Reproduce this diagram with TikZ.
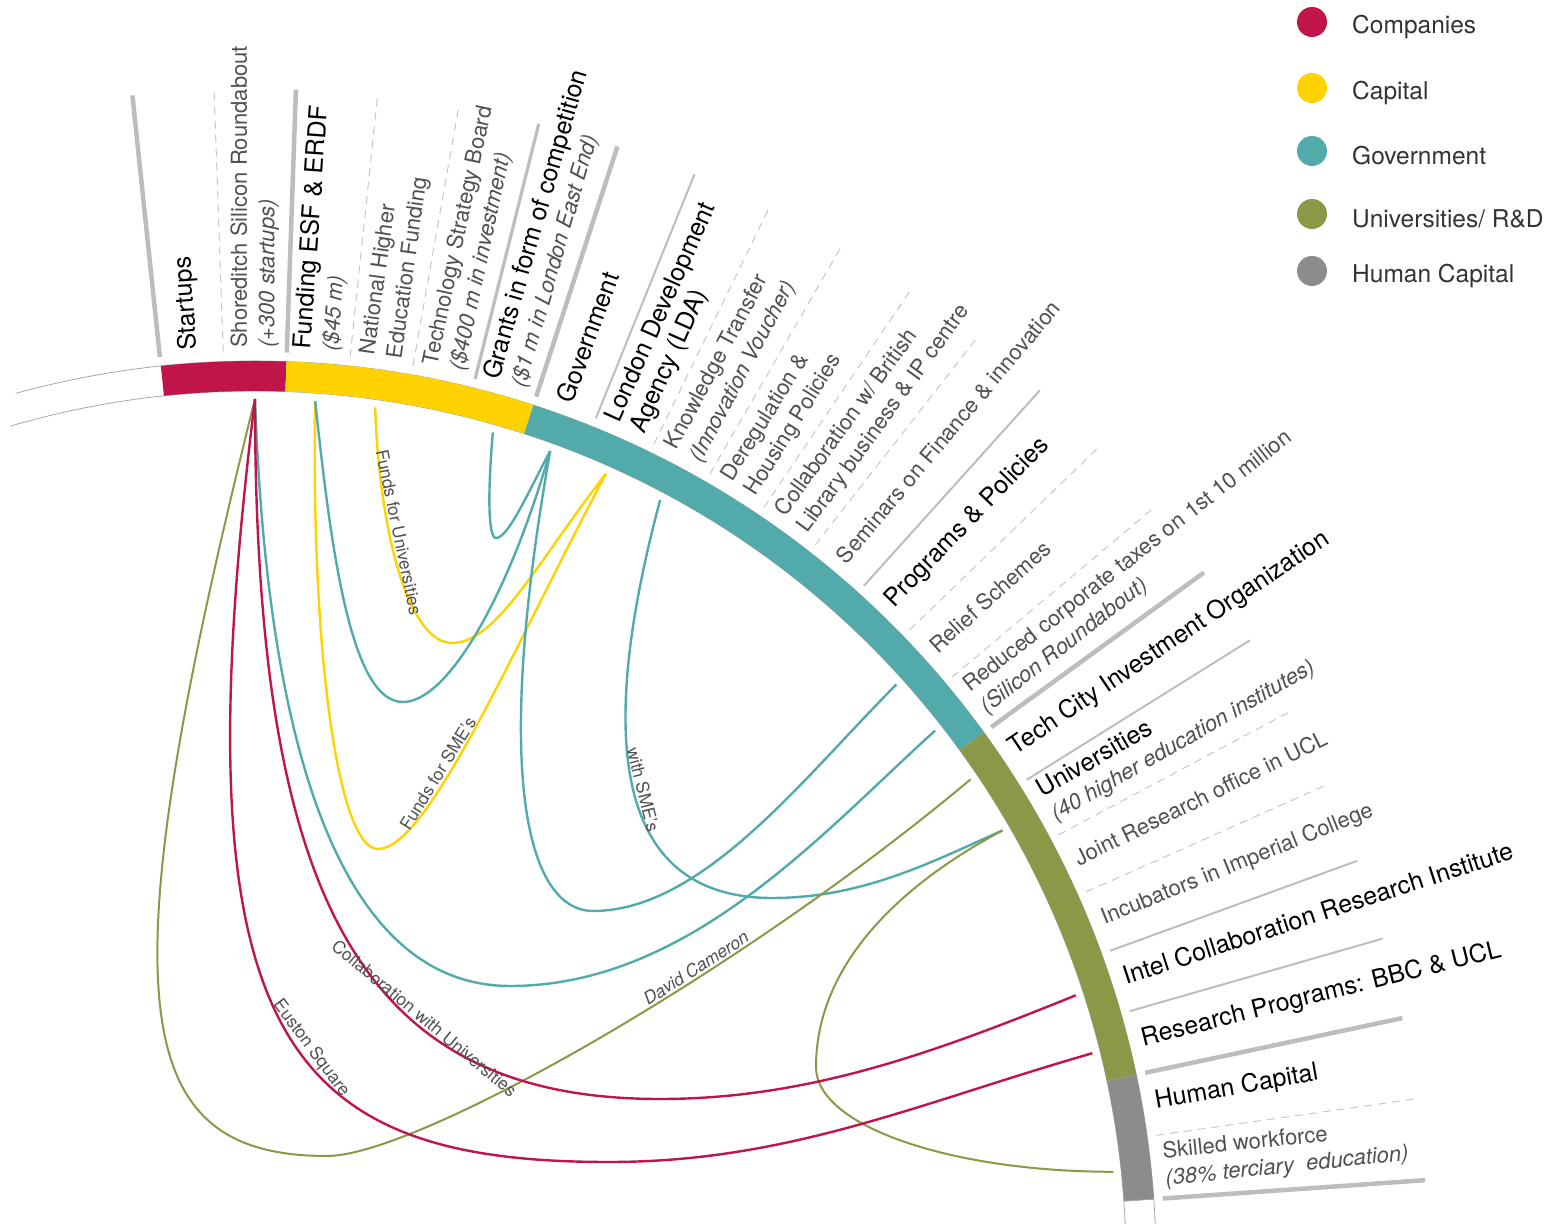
\documentclass[tikz,border=0pt]{standalone}
\usepackage{fontspec}
\setmainfont{TeX Gyre Heros}
\usetikzlibrary{calc}

\definecolor{cRed}{HTML}{C0144B}
\definecolor{cYel}{HTML}{FFD200}
\definecolor{cTeal}{HTML}{52ABAA}
\definecolor{cOlive}{HTML}{8B9848}
\definecolor{cGray}{HTML}{8C8C8C}
\definecolor{sepGray}{HTML}{BDBDBD}
\definecolor{txtGray}{HTML}{505050}
\definecolor{legGray}{HTML}{333333}

% fonts for the radial labels
\newcommand{\lblA}{\fontsize{25}{28}\selectfont\color{black}}
\newcommand{\lblB}{\fontsize{22}{28}\selectfont\color{txtGray}}

% one ring segment between two angles
\newcommand{\bandseg}[3]{\fill[#3] (#1:871pt) arc[start angle=#1, end angle=#2, radius=871pt] -- (#2:901pt) arc[start angle=#2, end angle=#1, radius=901pt] -- cycle;}

% radial labels, one or two lines
\newcommand{\radlab}[2]{\node[radnode, rotate=#1] (lab#1) at (#1:914pt) {\begin{tabular}{@{}l@{}}#2\end{tabular}};}
\newcommand{\radlabII}[3]{\node[radnode, rotate=#1] (lab#1) at (#1:914pt) {\begin{tabular}{@{}l@{}}#2\\#3\end{tabular}};}

\tikzset{
  septhick/.style={draw=sepGray, line width=4.5pt},
  sepmid/.style={draw=sepGray, line width=3.2pt},
  septhin/.style={draw=sepGray, line width=2pt},
  sepdash/.style={draw=sepGray!85, line width=1pt, dash pattern=on 8pt off 6pt},
  radnode/.style={anchor=west, inner sep=0pt, font=\fontsize{22}{27.5}\selectfont},
  chord/.style={line width=2.4pt},
  chordlab/.style={font=\fontsize{17.5}{20}\selectfont, text=txtGray, sloped, above, inner sep=2pt},
  legtext/.style={font=\fontsize{24.5}{28}\selectfont, text=legGray, anchor=west, inner sep=0pt},
  ringline/.style={draw=black!35, line width=0.8pt},
}

\begin{document}
\begin{tikzpicture}[x=1pt, y=1pt]
\useasboundingbox (-255,39) rectangle (1291,1262);

% ---------- chord end points on the inner side of the ring ----------
\foreach \a in {90,86,82,74,70,66,62,42,38,34,30,18,14,6}
  \coordinate (e\a) at (\a:863pt);

% lowest / turning points of the chords
\coordinate (by1) at (197,619);
\coordinate (by2) at (123,413);
\coordinate (bt1) at (241,724);
\coordinate (bt2) at (148,560);
\coordinate (bt3) at (338,351);
\coordinate (bt4) at (517,364);
\coordinate (bt5) at (255,276);
\coordinate (bo1) at (72,106);
\coordinate (bo2) at (561,195);
\coordinate (br1) at (405,163);
\coordinate (br2) at (354,100);

% ---------- chords ----------
% capital
\draw[chord, cYel] (e82) to[out=-88, in=180, out distance=130pt, in distance=42pt]
   node[chordlab, pos=.36] {Funds for Universities} (by1)
   to[out=0, in=232, out distance=45pt, in distance=110pt] (e66);
\draw[chord, cYel] (e86) to[out=-91, in=180, out distance=250pt, in distance=40pt] (by2)
   to[out=0, in=242, out distance=50pt, in distance=200pt]
   node[chordlab, pos=.37] {Funds for SME's} (e66);
% government
\draw[chord, cTeal] (e86) to[out=-84, in=180, out distance=165pt, in distance=50pt] (bt2)
   to[out=0, in=254, out distance=45pt, in distance=150pt] (e70);
\draw[chord, cTeal] (e74) to[out=-95, in=180, out distance=60pt, in distance=8pt] (bt1)
   to[out=0, in=242, out distance=12pt, in distance=50pt] (e70);
\draw[chord, cTeal] (e70) to[out=-100, in=180, out distance=350pt, in distance=60pt] (bt3)
   to[out=0, in=225, out distance=110pt, in distance=130pt] (e42);
\draw[chord, cTeal] (e90) to[out=-88, in=180, out distance=400pt, in distance=150pt] (bt5)
   to[out=0, in=222, out distance=180pt, in distance=150pt] (e38);
\draw[chord, cTeal] (e62) to[out=-105, in=180, out distance=300pt, in distance=130pt]
   node[chordlab, pos=.46] {with SME's} (bt4)
   to[out=0, in=204, out distance=90pt, in distance=80pt] (e30);
% universities / R&D
\draw[chord, cOlive, line width=2pt] (e90) to[out=-104, in=180, out distance=620pt, in distance=200pt] (bo1)
   to[out=0, in=220, out distance=90pt, in distance=300pt]
   node[chordlab, pos=.64, font=\fontsize{17.5}{20}\selectfont\itshape] {David Cameron} (e34);
\draw[chord, cOlive, line width=2pt] (e30) to[out=208, in=90, out distance=120pt, in distance=100pt] (bo2)
   to[out=-90, in=180, out distance=60pt, in distance=160pt] (e6);
% companies
\draw[chord, cRed] (e90) to[out=-90, in=180, out distance=500pt, in distance=300pt]
   node[chordlab, pos=.66] {Collaboration with Universities} (br1)
   to[out=0, in=202, out distance=150pt, in distance=150pt] (e18);
\draw[chord, cRed] (e90) to[out=-97, in=180, out distance=640pt, in distance=330pt]
   node[chordlab, pos=.56] {Euston Square} (br2)
   to[out=0, in=196, out distance=180pt, in distance=180pt] (e14);

% ---------- ring ----------
\draw[ringline] (105.4:901pt) arc[start angle=105.4, end angle=-3, radius=901pt];
\draw[ringline] (106.3:871pt) arc[start angle=106.3, end angle=-3, radius=871pt];
\bandseg{96}{88}{cRed}
\bandseg{88}{72}{cYel}
\bandseg{72}{36}{cTeal}
\bandseg{36}{12}{cOlive}
\bandseg{12}{4}{cGray}
\draw[ringline] (4:871pt) -- (4:901pt);

% ---------- radial separators ----------
\foreach \a/\s in {96/septhick, 92/sepdash, 88/septhick, 84/sepdash, 80/sepdash,
                   76/sepmid, 72/septhick, 68/septhin, 64/sepdash, 60/sepdash,
                   56/sepdash, 52/sepdash, 48/septhin, 44/sepdash, 40/sepdash,
                   36/septhick, 32/septhin, 28/sepdash, 24/sepdash, 20/septhin,
                   16/septhin, 12/septhick, 8/sepdash, 4/septhick}
  \draw[\s] (\a:910pt) -- (\a:1173pt);

% ---------- radial labels ----------
\radlab{94}{\lblA Startups}
\radlabII{90}{\lblB Shoreditch Silicon Roundabout}{\lblB\itshape (+300 startups)}
\radlabII{86}{\lblA Funding ESF \& ERDF}{\lblB\itshape (\$45 m)}
\radlabII{82}{\lblB National Higher}{\lblB Education Funding}
\radlabII{78}{\lblB Technology Strategy Board}{\lblB\itshape (\$400 m in investment)}
\radlabII{74}{\lblA Grants in form of competition}{\lblB\itshape (\$1 m in London East End)}
\radlab{70}{\lblA Government}
\radlabII{66}{\lblA London Development}{\lblA Agency (LDA)}
\radlabII{62}{\lblB Knowledge Transfer}{\lblB\itshape (Innovation Voucher)}
\radlabII{58}{\lblB Deregulation \&}{\lblB Housing Policies}
\radlabII{54}{\lblB Collaboration w/ British}{\lblB Library business \& IP centre}
\radlab{50}{\lblB Seminars on Finance \& innovation}
\radlab{46}{\lblA Programs \& Policies}
\radlab{42}{\lblB Relief Schemes}
\radlabII{38}{\lblB Reduced corporate taxes on 1st 10 million}{\lblB\itshape (Silicon Roundabout)}
\radlab{34}{\lblA Tech City Investment Organization}
\radlabII{30}{\lblA Universities}{\lblB\itshape (40 higher education institutes)}
\radlab{26}{\lblB Joint Research office in UCL}
\radlab{22}{\lblB Incubators in Imperial College}
\radlab{18}{\lblA Intel Collaboration Research Institute}
\radlab{14}{\lblA Research Programs: BBC \& UCL}
\radlab{10}{\lblA Human Capital}
\radlabII{6}{\lblB Skilled workforce}{\lblB\itshape (38\% terciary\ \ education)}

% ---------- legend ----------
\foreach \i/\y/\c/\t in {1/1240/cRed/{Companies}, 2/1174/cYel/{Capital},
                         3/1111/cTeal/{Government}, 4/1048/cOlive/{Universities/ R\&D},
                         5/991/cGray/{Human Capital}} {
  \fill[\c] (1057,\y) circle[radius=15pt];
  \node[legtext] (leg\i) at (1097,\y-5) {\t};
}
\end{tikzpicture}
\end{document}
